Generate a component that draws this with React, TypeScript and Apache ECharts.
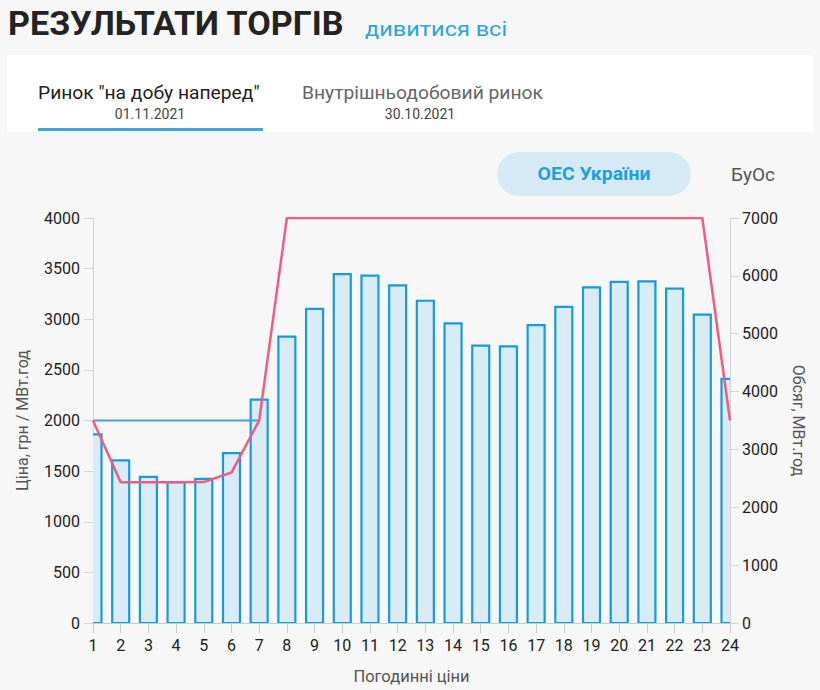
import React, { useEffect, useRef } from "react";
import * as echarts from "echarts";

const hours = ["1","2","3","4","5","6","7","8","9","10","11","12","13","14","15","16","17","18","19","20","21","22","23","24"];
const volume = [3260, 2810, 2525, 2435, 2490, 2935, 3860, 4950, 5430, 6030, 6005, 5835, 5570, 5180, 4795, 4780, 5150, 5465, 5800, 5895, 5905, 5780, 5330, 4220];
const price = [2000, 1389, 1389, 1389, 1392, 1486, 2000, 4000, 4000, 4000, 4000, 4000, 4000, 4000, 4000, 4000, 4000, 4000, 4000, 4000, 4000, 4000, 4000, 2000];
const priceCap = [2000, 2000, 2000, 2000, 2000, 2000, 2000, null, null, null, null, null, null, null, null, null, null, null, null, null, null, null, null, null];

const FONT = "Roboto, 'Noto Sans', sans-serif";
const BAR_W = 17;

export default function App() {
  const ref = useRef<HTMLDivElement>(null);
  useEffect(() => {
    document.body.style.margin = "0";
    const chart = echarts.init(ref.current!, null, { renderer: "svg" });
    const fmt = (v: number) => String(v);
    chart.setOption({
      animation: false,
      backgroundColor: "#f7f7f7",
      textStyle: { fontFamily: FONT },
      graphic: [
        { type: "text", x: 8, y: 24, scaleX: 1.035, style: { text: "РЕЗУЛЬТАТИ ТОРГІВ", font: `bold 33px ${FONT}`, fill: "#232323", verticalAlign: "middle" } },
        { type: "text", x: 365, y: 28, scaleX: 1.12, style: { text: "дивитися всі", font: `21px ${FONT}`, fill: "#2aa4e0", verticalAlign: "middle" } },
        { type: "rect", shape: { x: 7, y: 55, width: 806, height: 77 }, style: { fill: "#ffffff" } },
        { type: "text", x: 38, y: 93, scaleX: 1.07, style: { text: 'Ринок "на добу наперед"', font: `18px ${FONT}`, fill: "#222", verticalAlign: "middle" } },
        { type: "text", x: 150, y: 114, style: { text: "01.11.2021", font: `14px ${FONT}`, fill: "#444", align: "center", verticalAlign: "middle" } },
        { type: "rect", shape: { x: 38, y: 128, width: 225, height: 3 }, style: { fill: "#3aa6e0" } },
        { type: "text", x: 302, y: 93, scaleX: 1.07, style: { text: "Внутрішньодобовий ринок", font: `18px ${FONT}`, fill: "#666", verticalAlign: "middle" } },
        { type: "text", x: 420, y: 114, style: { text: "30.10.2021", font: `14px ${FONT}`, fill: "#444", align: "center", verticalAlign: "middle" } },
        { type: "rect", shape: { x: 497, y: 152, width: 194, height: 44, r: 22 }, style: { fill: "#d6eaf6" } },
        { type: "text", x: 594, y: 174, scaleX: 1.08, style: { text: "ОЕС України", font: `bold 18px ${FONT}`, fill: "#1e9fdf", align: "center", verticalAlign: "middle" } },
        { type: "text", x: 731, y: 174, style: { text: "БуОс", font: `19px ${FONT}`, fill: "#555", align: "left", verticalAlign: "middle" } },
      ],
      grid: { left: 93, right: 90, top: 218, bottom: 66 },
      xAxis: {
        type: "category",
        data: hours,
        boundaryGap: false,
        name: "Погодинні ціни",
        nameLocation: "middle",
        nameGap: 45,
        nameTextStyle: { fontSize: 16.5, color: "#555", fontFamily: FONT },
        axisLine: { lineStyle: { color: "#cccccc", width: 1 } },
        axisTick: { length: 10, lineStyle: { color: "#cccccc" } },
        axisLabel: { fontSize: 16, color: "#222", margin: 14, interval: 0, fontFamily: FONT },
        splitLine: { show: false },
      },
      yAxis: [
        {
          type: "value",
          min: 0,
          max: 4000,
          interval: 500,
          position: "left",
          name: "Ціна, грн / МВт.год",
          nameLocation: "middle",
          nameGap: 63,
          nameTextStyle: { fontSize: 16, color: "#555", fontFamily: FONT },
          axisLine: { show: true, lineStyle: { color: "#d4d4d4" } },
          axisTick: { show: true, length: 9, lineStyle: { color: "#d4d4d4" } },
          axisLabel: { fontSize: 16, color: "#222", margin: 13, fontFamily: FONT, formatter: fmt },
          splitLine: { show: false },
        },
        {
          type: "value",
          min: 0,
          max: 7000,
          interval: 1000,
          position: "right",
          name: "Обсяг, МВт.год",
          nameLocation: "middle",
          nameGap: 60,
          nameRotate: -90,
          nameTextStyle: { fontSize: 16, color: "#555", fontFamily: FONT },
          axisLine: { show: true, lineStyle: { color: "#d4d4d4" } },
          axisTick: { show: true, length: 9, lineStyle: { color: "#d4d4d4" } },
          axisLabel: { fontSize: 16, color: "#222", margin: 12, fontFamily: FONT, formatter: fmt },
          splitLine: { show: false },
        },
      ],
      series: [
        {
          type: "custom",
          name: "Обсяг",
          yAxisIndex: 1,
          clip: true,
          encode: { x: 0, y: 1 },
          data: volume.map((v, i) => [i, v]),
          renderItem: (params: any, api: any) => {
            const idx = api.value(0);
            const val = api.value(1);
            const top = api.coord([idx, val]);
            const base = api.coord([idx, 0]);
            return {
              type: "rect",
              shape: { x: top[0] - BAR_W / 2, y: top[1], width: BAR_W, height: base[1] - top[1] },
              style: { fill: "#d9ebf5", stroke: "#159cdf", lineWidth: 2.2 },
            };
          },
          z: 2,
        },
        {
          type: "line",
          name: "Граничная ціна",
          yAxisIndex: 0,
          data: priceCap,
          showSymbol: false,
          symbol: "none",
          lineStyle: { color: "#3fa2da", width: 2 },
          z: 3,
        },
        {
          type: "line",
          name: "Ціна",
          yAxisIndex: 0,
          data: price,
          showSymbol: false,
          symbol: "none",
          lineStyle: { color: "#f25c7e", width: 2.5 },
          z: 4,
        },
      ],
    });
    return () => chart.dispose();
  }, []);
  return <div ref={ref} style={{ width: 820, height: 690 }} />;
}
